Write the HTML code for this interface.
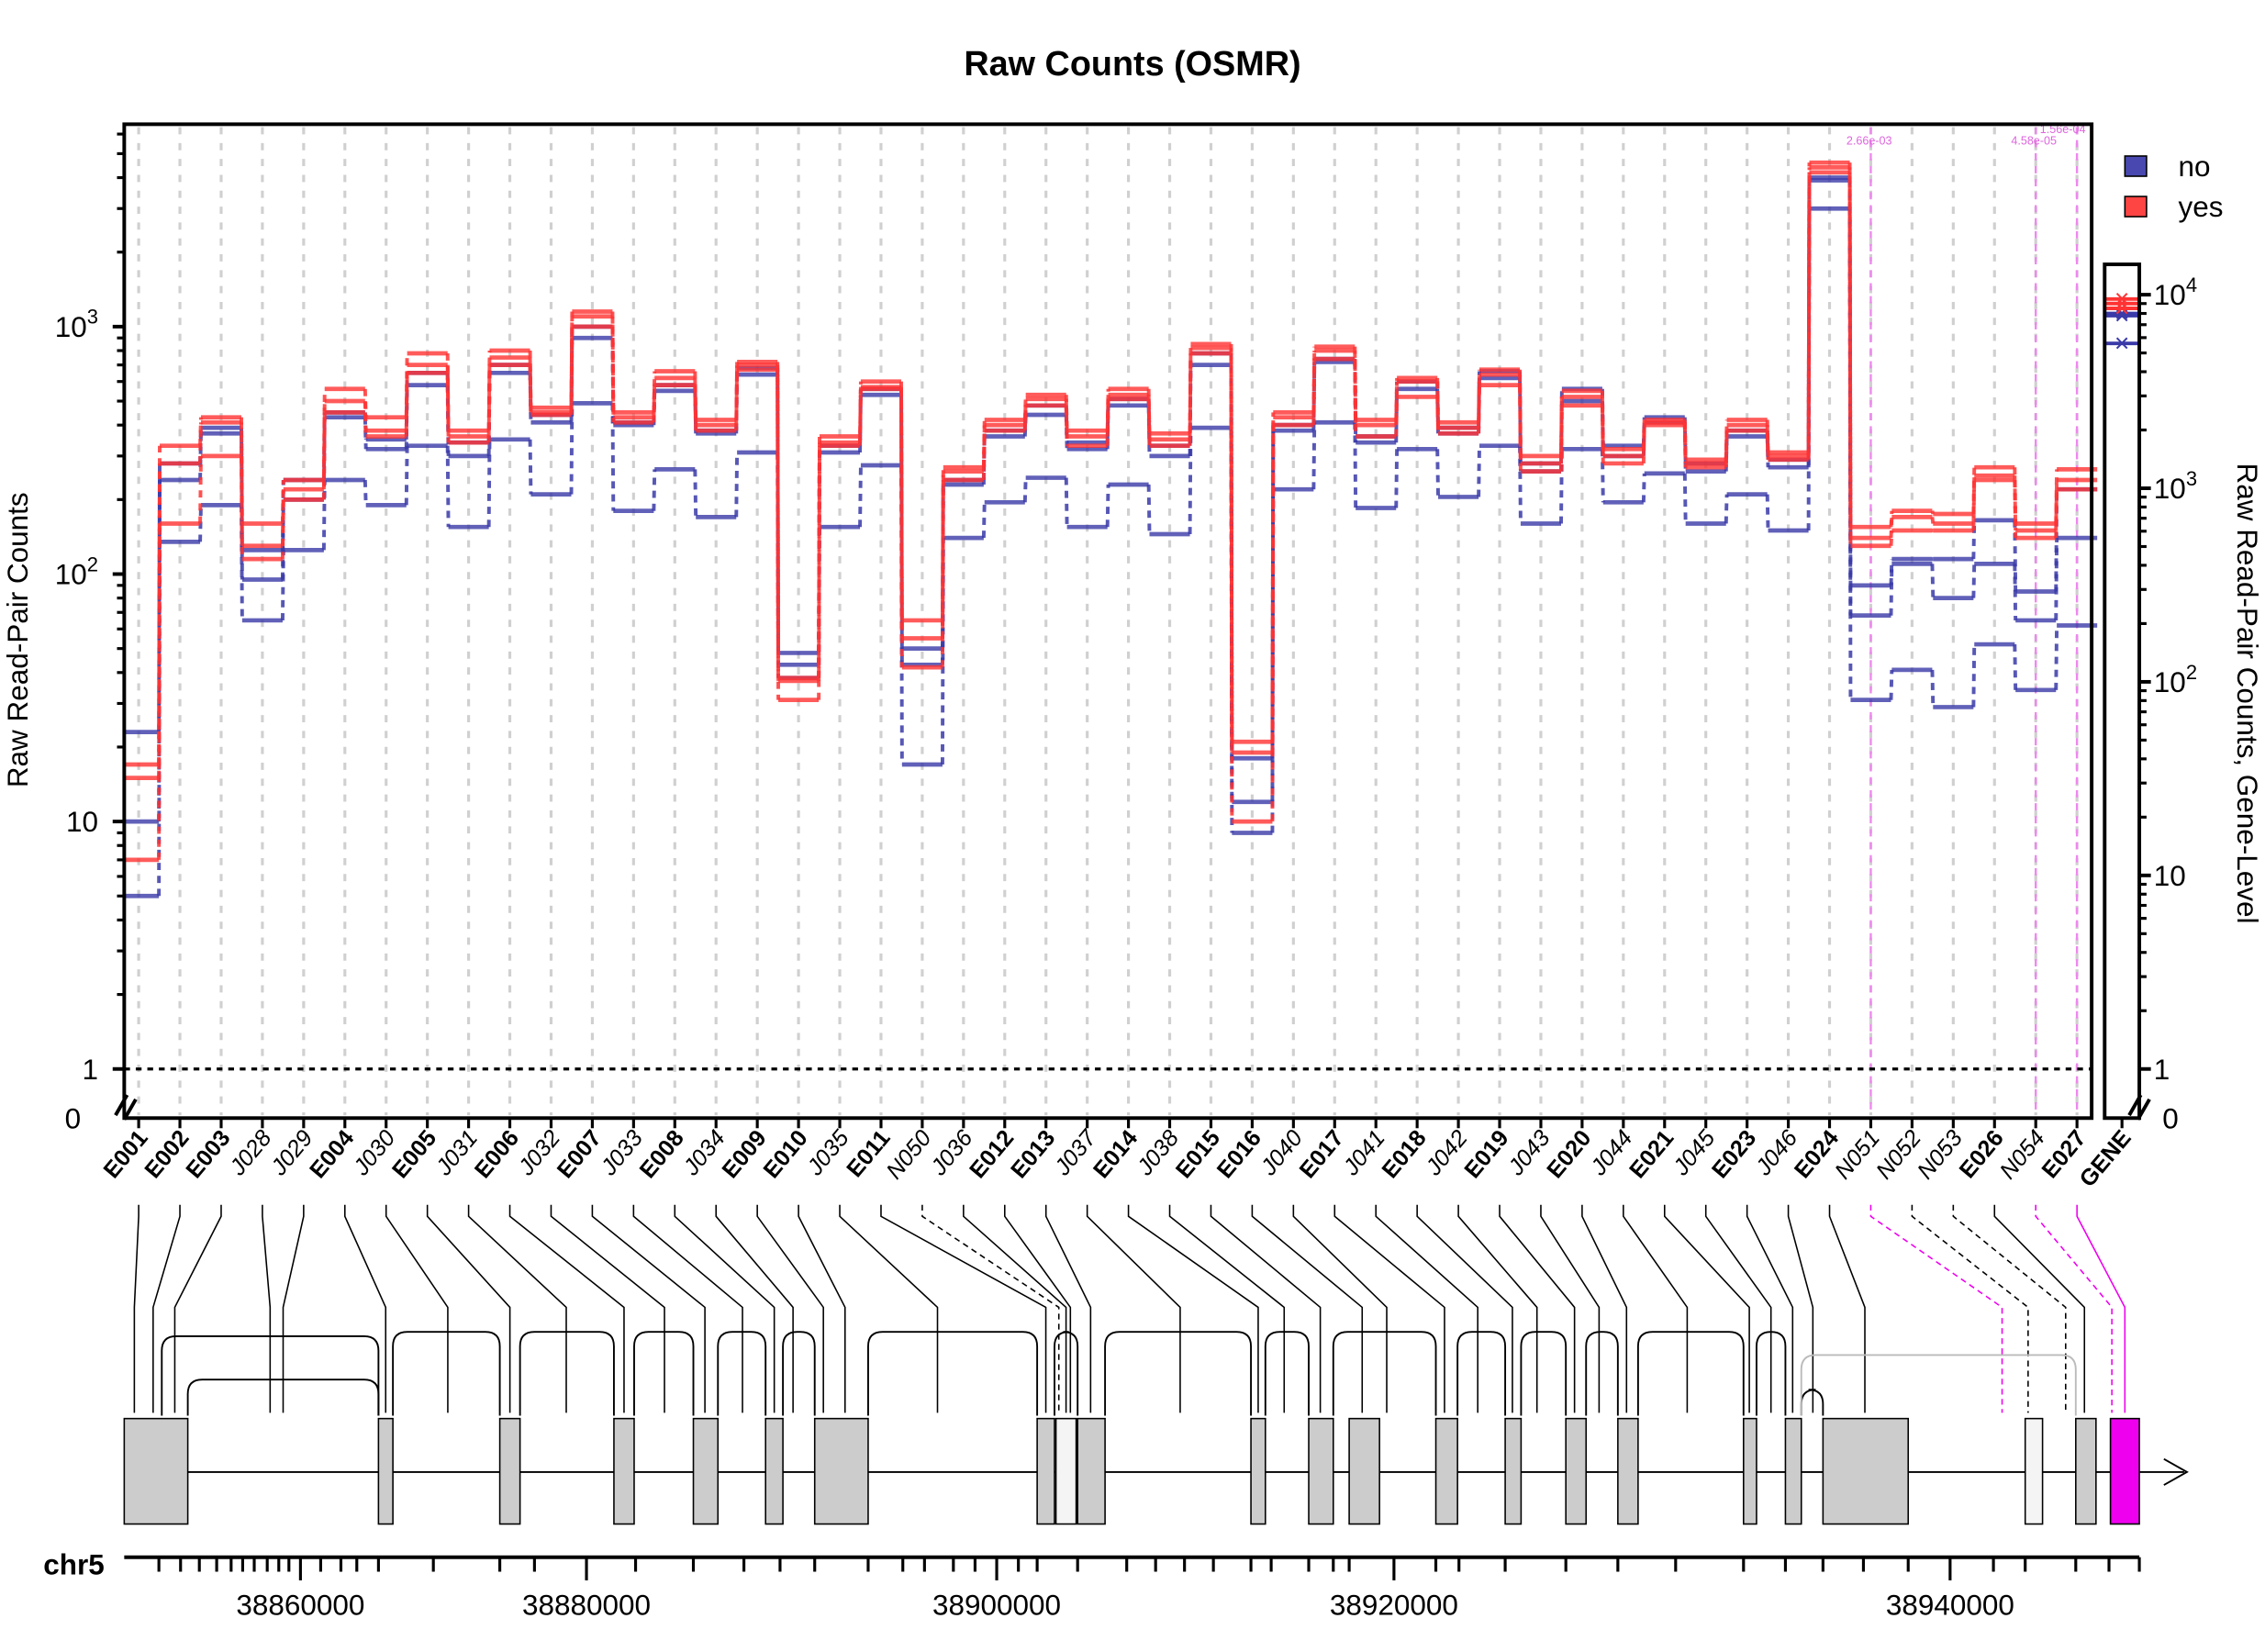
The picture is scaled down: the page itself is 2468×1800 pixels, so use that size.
<!DOCTYPE html>
<html><head><meta charset="utf-8">
<style>
html,body{margin:0;padding:0;background:#fff;}
svg{display:block;font-family:"Liberation Sans",Arial,sans-serif;}
</style></head>
<body>
<svg id="chart" xmlns="http://www.w3.org/2000/svg" width="2468" height="1800" viewBox="0 0 1568 1143.6">
<rect width="1568" height="1143.6" fill="#fff"/>
<text x="784" y="52" text-anchor="middle" font-size="24" font-weight="bold">Raw Counts (OSMR)</text>
<g id="grid"></g>
<g id="series"></g>
<g id="axes"></g>
<g id="gene"></g>
</svg>
<script>
const categories=["E001","E002","E003","J028","J029","E004","J030","E005","J031","E006","J032","E007","J033","E008","J034","E009","E010","J035","E011","N050","J036","E012","E013","J037","E014","J038","E015","E016","J040","E017","J041","E018","J042","E019","J043","E020","J044","E021","J045","E023","J046","E024","N051","N052","N053","E026","N054","E027"];
const red1=[17,330,430,160,240,560,430,780,380,800,470,1150,450,660,420,720,38,360,600,65,270,420,530,380,560,370,850,21,450,830,420,620,410,670,300,550,320,420,290,420,310,4600,155,180,175,270,160,265];
const red2=[15,280,410,130,220,500,380,700,360,750,450,1100,430,620,400,700,37,340,570,55,260,400,510,360,530,350,820,19,430,800,400,600,390,640,280,520,300,410,280,400,300,4400,140,170,160,250,150,240];
const red3=[7,160,300,115,200,450,360,650,340,700,440,1000,410,580,380,670,31,330,560,42,240,380,480,330,510,330,780,10,400,740,360,520,370,580,260,480,280,400,270,380,290,4200,130,150,150,240,140,220];
const blue1=[23,280,390,125,240,450,350,650,340,700,440,1000,410,580,380,680,48,330,560,50,240,380,480,340,510,330,780,18,400,740,360,600,390,660,280,560,330,430,280,380,290,4000,90,115,115,165,85,220];
const blue2=[10,240,370,95,200,430,320,580,300,650,410,900,400,550,370,640,43,310,530,43,230,360,440,320,480,300,700,12,380,720,340,560,370,620,260,500,300,410,260,360,270,3900,68,110,80,110,65,140];
const blue3=[5,135,190,65,125,240,190,330,155,350,210,490,180,265,170,310,38,155,275,17,140,195,245,155,230,145,390,9,220,410,185,320,205,330,160,320,195,255,160,210,150,3000,31,41,29,52,34,62];
const geneRed=[9500,9000,8500];
const geneBlue=[8000,7800,5600];
const leftTicks=[1,10,100,1000];
const rightTicks=[1,10,100,1000,10000];
const targets=[93,106,121,187,196,267,310,353,392,432,460,488,514,536,549,570,585,649,724,733,738,741,755,817,871,889,914,943,960,1000,1023,1047,1064,1090,1107,1126,1168,1211,1226,1241,1255,1291,1386,1404,1430,1443,1462,1471];
const exons=[[86,130],[262,272],[346,360],[425,439],[480,497],[530,542],[564,601],[718,730],[746,765],[866,876],[906,923],[934,955],[994,1009],[1042,1053],[1084,1098],[1120,1134],[1207,1216],[1236,1247],[1262,1321],[1437,1451]];
const arcs=[[112,262,925],[130,262,955],[272,346,922],[360,425,922],[439,480,922],[497,530,922],[542,564,922],[601,718,922],[730,746,922],[765,866,922],[876,906,922],[923,994,922],[1009,1042,922],[1053,1084,922],[1098,1120,922],[1134,1207,922],[1216,1236,922],[1247,1262,962],[1247,1437,938]];
const axisLabels=[["38860000",208],["38880000",406],["38900000",690],["38920000",965],["38940000",1350]];

const NS="http://www.w3.org/2000/svg";
function mk(tag,attrs,parent){const e=document.createElementNS(NS,tag);for(const k in attrs)e.setAttribute(k,attrs[k]);parent.appendChild(e);return e;}
const X0=96,DX=28.55;
function xs(i){return X0+i*DX;}
function yL(v){return 740-171.3*Math.log10(v);}
function yR(v){return 740-134*Math.log10(v);}
const grid=document.getElementById('grid'),ser=document.getElementById('series'),ax=document.getElementById('axes'),gene=document.getElementById('gene');

// grid
categories.forEach((c,i)=>{const l=mk('line',{x1:xs(i),x2:xs(i),y1:88,y2:772,stroke:'#d0d0d0','stroke-width':2,'stroke-dasharray':'5 6'},grid);

});
[42,46,47].forEach(i=>{const l=mk('line',{x1:xs(i),x2:xs(i),y1:88,y2:772,stroke:'#ee88ee','stroke-width':1.5,'stroke-dasharray':'5 4'},grid);

});
[["2.66e-03",1294],["4.58e-05",1408],["1.56e-04",1428]].forEach(([t,x],k)=>{const e=mk('text',{x:x,y:k==2?92:100,'text-anchor':'middle','font-size':8,fill:'#dd66dd'},grid);e.textContent=t;

});
const dl=mk('line',{x1:86,x2:1448,y1:740,y2:740,stroke:'#000','stroke-width':2,'stroke-dasharray':'4 4'},grid);



// series
const sets=[[blue3,'#3a3aa8'],[blue2,'#3a3aa8'],[blue1,'#3a3aa8'],[red3,'#ff3333'],[red2,'#ff3333'],[red1,'#ff3333']];
sets.forEach(([arr,col],s)=>{
  let d='';
  arr.forEach((v,i)=>{const y=yL(v);const a=i==0?86:xs(i)-14,b=xs(i)+14;
    const h=mk('line',{x1:a,x2:b,y1:y,y2:y,stroke:col,'stroke-width':3,opacity:0.8},ser);
    
    
    if(i<arr.length-1){const y2=yL(arr[i+1]);d+=`M${b},${y}L${xs(i+1)-14},${y2}`;}
  });
  const p=mk('path',{d:d,fill:'none',stroke:col,'stroke-width':2.5,'stroke-dasharray':'5 4',opacity:0.85},ser);
  
  
});
// gene-level
[[geneBlue,'#3a3aa8'],[geneRed,'#ff3333']].forEach(([arr,col])=>{arr.forEach(v=>{const y=yR(v);
  const t=mk('text',{x:1469,y:y+6,'text-anchor':'middle','font-size':18,fill:col},ser);t.textContent='×';
  
  
  const h=mk('line',{x1:1458,x2:1480,y1:y,y2:y,stroke:col,'stroke-width':2.5},ser);
  
  });});

// axes boxes
const b1=mk('rect',{x:86,y:86,width:1362,height:688,fill:'none',stroke:'#000','stroke-width':2.5},ax);

const b2=mk('rect',{x:1457,y:183,width:24,height:591,fill:'none',stroke:'#000','stroke-width':2.5},ax);

// left ticks
function sup(parent,x,y,v,anchor){const t=mk('text',{x:x,y:y,'text-anchor':anchor,'font-size':20},parent);
  if(v>=100){const e=Math.round(Math.log10(v));t.textContent='10';const ts=mk('tspan',{dy:-9,'font-size':14},t);ts.textContent=e;}else t.textContent=String(v);return t;}
leftTicks.forEach(v=>{const y=yL(v);mk('line',{x1:78,x2:86,y1:y,y2:y,stroke:'#000','stroke-width':2.5},ax);
  const t=sup(ax,68,y+7,v,'end');
  if(v<1000)for(let m=2;m<10;m++){const yy=yL(v*m);mk('line',{x1:81,x2:86,y1:yy,y2:yy,stroke:'#000','stroke-width':2},ax);}});
for(let m=2;m<10;m++){const yy=yL(1000*m);if(yy>88)mk('line',{x1:81,x2:86,y1:yy,y2:yy,stroke:'#000','stroke-width':2},ax);}
let z=mk('text',{x:56,y:781,'text-anchor':'end','font-size':20},ax);z.textContent='0';

rightTicks.forEach(v=>{const y=yR(v);mk('line',{x1:1481,x2:1489,y1:y,y2:y,stroke:'#000','stroke-width':2.5},ax);
  const t=sup(ax,1491,y+7,v,'start');
  if(v<10000)for(let m=2;m<10;m++){const yy=yR(v*m);mk('line',{x1:1481,x2:1486,y1:yy,y2:yy,stroke:'#000','stroke-width':2},ax);}});
z=mk('text',{x:1497,y:781,'text-anchor':'start','font-size':20},ax);z.textContent='0';

[[80],[1474]].forEach(([x])=>{mk('path',{d:`M${x},${772}l8,-14M${x+6},${775}l8,-14`,stroke:'#000','stroke-width':2.5,fill:'none'},ax);});
let yt=mk('text',{x:0,y:0,'text-anchor':'middle','font-size':20,transform:'translate(19,443) rotate(-90)'},ax);yt.textContent='Raw Read-Pair Counts';

yt=mk('text',{x:0,y:0,'text-anchor':'middle','font-size':20,transform:'translate(1549,480) rotate(90)'},ax);yt.textContent='Raw Read-Pair Counts, Gene-Level';

// legend
[['no','#4848b0',108],['yes','#ff4444',136]].forEach(([n,c,y])=>{const r=mk('rect',{x:1471,y:y,width:15,height:14,fill:c,stroke:'#000','stroke-width':1},ax);
  
  const t=mk('text',{x:1508,y:y+14,'font-size':20},ax);t.textContent=n;
  });
// x labels
categories.concat(['GENE']).forEach((c,i)=>{const x=i<48?xs(i):1469;
  mk('line',{x1:x,x2:x,y1:774,y2:781,stroke:'#000','stroke-width':2},ax);
  const bold=c[0]=='E'||c=='GENE';
  const t=mk('text',{x:0,y:0,'text-anchor':'end','font-size':16,'font-weight':bold?'bold':'normal','font-style':bold?'normal':'italic',transform:`translate(${x+7},${788}) rotate(-50)`},ax);
  t.textContent=c;
  if(i<48){const col=(i==42||i==46||i==47)?'#ee00ee':'#000';const dash=c[0]=='N'?'4 3':'none';
    mk('path',{d:`M${x},834L${x},842L${targets[i]},${905}L${targets[i]},${978}`,fill:'none',stroke:col,'stroke-width':1,'stroke-dasharray':dash},gene);}
});
// gene model
mk('line',{x1:86,x2:1512,y1:1019,y2:1019,stroke:'#000','stroke-width':1.2},gene);
mk('path',{d:'M1498,1010L1514,1019L1498,1028',fill:'none',stroke:'#000','stroke-width':1.2},gene);
arcs.forEach(([a,b,y])=>{const p=mk('path',{d:`M${a},980L${a},${y+10}Q${a},${y} ${a+10},${y}L${b-10},${y}Q${b},${y} ${b},${y+10}L${b},980`,fill:'none',stroke:b-a>180&&a>1240?'#bbb':'#000','stroke-width':1.2},gene);
  });
exons.forEach(([a,b])=>{const r=mk('rect',{x:a,y:982,width:b-a,height:73,fill:'#cccccc',stroke:'#000','stroke-width':1},gene);
  });
[[731,745],[1402,1414]].forEach(([a,b])=>{const r=mk('rect',{x:a,y:982,width:b-a,height:73,fill:'#f4f4f4',stroke:'#000','stroke-width':1},gene);
  });
const mg=mk('rect',{x:1461,y:982,width:20,height:73,fill:'#ee00ee',stroke:'#000','stroke-width':1},gene);

// genomic axis
mk('line',{x1:86,x2:1481,y1:1078,y2:1078,stroke:'#000','stroke-width':2.5},gene);
let ch=mk('text',{x:30,y:1090,'font-size':20,'font-weight':'bold'},gene);ch.textContent='chr5';

[110,125,138,150,160,168,176,185,193,200,208,222,236,247,262,300,346,370,406,440,480,515,540,564,601,625,640,660,675,690,705,718,746,780,800,820,840,866,880,906,923,934,965,994,1010,1042,1084,1120,1160,1207,1236,1262,1290,1321,1350,1380,1402,1437,1460,1481].forEach(x=>{
  const big=axisLabels.some(a=>a[1]==x);mk('line',{x1:x,x2:x,y1:1078,y2:big?1094:1088,stroke:'#000','stroke-width':2},gene);});
axisLabels.forEach(([t,x])=>{const e=mk('text',{x:x,y:1118,'text-anchor':'middle','font-size':20},gene);e.textContent=t;
  });
</script>
</body></html>
